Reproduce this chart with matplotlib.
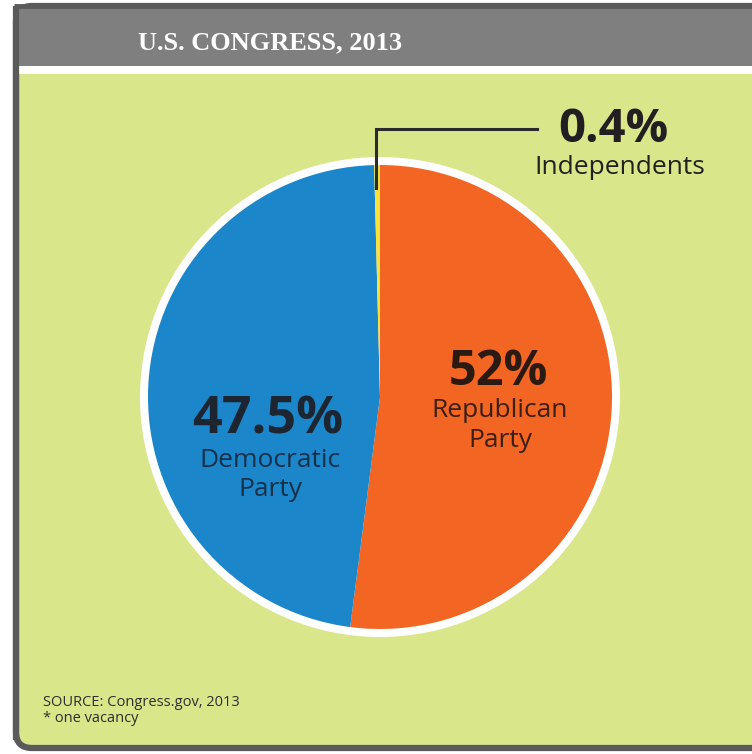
import matplotlib.pyplot as plt
from matplotlib.patches import Circle, FancyBboxPatch, Rectangle

# data
parties = ["Republican Party", "Democratic Party", "Independents"]
shares = [52.0, 47.5, 0.4]
share_labels = ["52%", "47.5%", "0.4%"]
colors = ["#f26522", "#1b86c9", "#f3e33b"]

W, H = 752, 754
GREEN = "#d9e68a"
GRAY = "#7f7f7f"
BORDER = "#5a5a5a"


def Y(y):
    # image pixel row -> axes y
    return H - y


fig = plt.figure(figsize=(W / 100, H / 100), dpi=100)
fig.patch.set_facecolor("white")
ax = fig.add_axes([0, 0, 1, 1])

# frame
frame = FancyBboxPatch((16, Y(748)), 800, 742, boxstyle="round,pad=0,rounding_size=16",
                       facecolor=GREEN, edgecolor=BORDER, linewidth=4.5, zorder=1)
ax.add_patch(frame)
ax.add_patch(Rectangle((16, Y(66)), 800, 59, facecolor=GRAY, edgecolor="none", zorder=2))
ax.add_patch(Rectangle((16, Y(74)), 800, 8, facecolor="white", edgecolor="none", zorder=2))
ax.plot([16, 16], [Y(6), Y(740)], color=BORDER, lw=4.5, zorder=3, solid_capstyle="butt")
ax.plot([14, 760], [Y(6), Y(6)], color=BORDER, lw=3.5, zorder=3, solid_capstyle="butt")

ax.text(270, Y(43), "U.S. CONGRESS, 2013", color="white", fontsize=19, fontweight="bold",
        family="Liberation Serif", ha="center", va="center", zorder=4)

# pie
cx, cy, r = 380, Y(397), 232
ax.add_patch(Circle((cx, cy), r + 8, facecolor="white", edgecolor="none", zorder=3))
wedges, _ = ax.pie(shares, colors=colors, startangle=90, counterclock=False,
                   center=(cx, cy), radius=r, frame=True,
                   wedgeprops=dict(edgecolor="none"))
for w in wedges:
    w.set_zorder(4)
ax.set_xlim(0, W)
ax.set_ylim(0, H)
ax.axis("off")

font = "Open Sans"
# Republican
ax.text(498, Y(385), share_labels[0], fontsize=35, fontweight="bold", family=font,
        color="#2a1a12", ha="center", va="baseline", zorder=5)
ax.text(500, Y(417), "Republican", fontsize=19, family=font, color="#3a1f12",
        ha="center", va="baseline", zorder=5)
ax.text(500, Y(447), "Party", fontsize=19, family=font, color="#3a1f12",
        ha="center", va="baseline", zorder=5)
# Democratic
ax.text(268, Y(434), share_labels[1], fontsize=37.5, fontweight="bold", family=font,
        color="#1c2530", ha="center", va="baseline", zorder=5)
ax.text(270, Y(467), "Democratic", fontsize=19, family=font, color="#17304a",
        ha="center", va="baseline", zorder=5)
ax.text(270, Y(496), "Party", fontsize=19, family=font, color="#17304a",
        ha="center", va="baseline", zorder=5)
# Independents
ax.plot([376, 376, 537], [Y(188), Y(129), Y(129)], color="#2b2b2b", lw=2.2, zorder=5,
        solid_joinstyle="miter")
ax.text(613, Y(142), share_labels[2], fontsize=34, fontweight="bold", family=font,
        color="#231f20", ha="center", va="baseline", zorder=5)
ax.text(620, Y(174), parties[2], fontsize=19, family=font, color="#231f20",
        ha="center", va="baseline", zorder=5)

# source
ax.text(43, Y(706), "SOURCE: Congress.gov, 2013", fontsize=10.5, family=font,
        color="#2e2e2e", ha="left", va="baseline", zorder=5)
ax.text(43, Y(722), "* one vacancy", fontsize=10.5, family=font,
        color="#2e2e2e", ha="left", va="baseline", zorder=5)

fig.savefig("out.png", dpi=100)
